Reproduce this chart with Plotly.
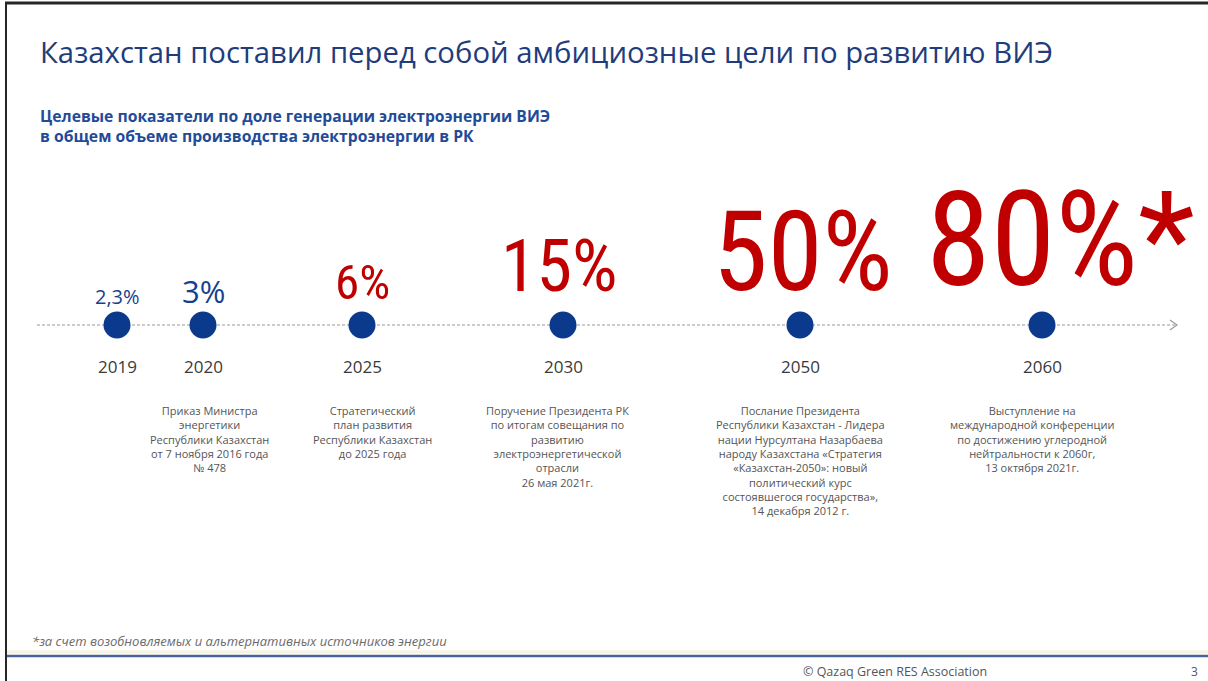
import plotly.graph_objects as go

# Milestones of the renewable-energy share targets
years = ["2019", "2020", "2025", "2030", "2050", "2060"]
shares = [2.3, 3, 6, 15, 50, 80]
footnote_marks = ["", "", "", "", "", "*"]
sources = [
    "",
    "Приказ Министра<br>энергетики<br>Республики Казахстан<br>от 7 ноября 2016 года<br>№ 478",
    "Стратегический<br>план развития<br>Республики Казахстан<br>до 2025 года",
    "Поручение Президента РК<br>по итогам совещания по<br>развитию<br>электроэнергетической<br>отрасли<br>26 мая 2021г.",
    "Послание Президента<br>Республики Казахстан - Лидера<br>нации Нурсултана Назарбаева<br>народу Казахстана «Стратегия<br>«Казахстан-2050»: новый<br>политический курс<br>состоявшегося государства»,<br>14 декабря 2012 г.",
    "Выступление на<br>международной конференции<br>по достижению углеродной<br>нейтральности к 2060г,<br>13 октября 2021г.",
]

title = "Казахстан поставил перед собой амбициозные цели по развитию ВИЭ"
subtitle = ("Целевые показатели по доле генерации электроэнергии ВИЭ<br>"
            "в общем объеме производства электроэнергии в РК")
footnote = "*за счет возобновляемых и альтернативных источников энергии"
credit = "© Qazaq Green RES Association"
page_no = "3"

# Layout: horizontal centre of each milestone column on the timeline
slot_x = [117, 203, 362, 563, 800, 1042]
line_y = 325
# label styling per milestone
label_sizes = [20, 31, 49, 72, 111, 131]
label_colors = ["#173f8f", "#173f8f", "#c00000", "#c00000", "#c00000", "#c00000"]
label_shift = [13, 11, 12, 14, 6, 6]
label_x_offset = [0, 0, 0, -4, 3, 18]
source_x_offset = [0, 6, 10, -6, 0, -10]

NAVY = "#0b3a8c"
SANS = "Open Sans, Noto Sans, sans-serif"
NARROW = ("Noto Sans Condensed SemiBold, Noto Sans SemiCondensed SemiBold, "
          "Noto Sans Condensed, Roboto Condensed, Roboto, sans-serif")

fig = go.Figure()

# dashed timeline
fig.add_trace(go.Scatter(
    x=[37, 1176], y=[line_y, line_y], mode="lines",
    line=dict(color="#9a9a9a", width=1.2, dash="3px,2px"),
    hoverinfo="skip", showlegend=False,
))

# milestone dots
fig.add_trace(go.Scatter(
    x=slot_x, y=[line_y] * len(years), mode="markers",
    marker=dict(size=27, color=NAVY, line=dict(width=0)),
    text=years, hovertemplate="%{text}<extra></extra>", showlegend=False,
))

annotations = []
for i, yr in enumerate(years):
    label = f"{shares[i]:g}".replace(".", ",") + "%" + footnote_marks[i]
    annotations.append(dict(
        x=slot_x[i] + label_x_offset[i], y=line_y, xref="x", yref="y",
        text=label, showarrow=False,
        xanchor="center", yanchor="bottom", yshift=label_shift[i],
        font=dict(family=NARROW if shares[i] >= 6 else SANS,
                  size=label_sizes[i], color=label_colors[i]),
    ))
    annotations.append(dict(
        x=slot_x[i], y=366, xref="x", yref="y", text=yr, showarrow=False,
        xanchor="center", yanchor="middle",
        font=dict(family=SANS, size=17, color="#3a3a3a"),
    ))
    if sources[i]:
        annotations.append(dict(
            x=slot_x[i] + source_x_offset[i], y=401, xref="x", yref="y",
            text=sources[i], showarrow=False, align="center",
            xanchor="center", yanchor="top",
            font=dict(family=SANS, size=11, color="#555555"),
        ))

annotations += [
    dict(x=38, y=52, xref="x", yref="y", text=title, showarrow=False,
         xanchor="left", yanchor="middle",
         font=dict(family=SANS, size=29.3, color="#1f3c7c")),
    dict(x=38, y=126, xref="x", yref="y", text="<b>" + subtitle + "</b>",
         showarrow=False, xanchor="left", yanchor="middle", align="left",
         font=dict(family=SANS, size=15.7, color="#1f4b97")),
    dict(x=30, y=641, xref="x", yref="y", text="<i>" + footnote + "</i>",
         showarrow=False, xanchor="left", yanchor="middle",
         font=dict(family=SANS, size=13, color="#6b6b6b")),
    dict(x=895, y=671, xref="x", yref="y", text=credit, showarrow=False,
         xanchor="center", yanchor="middle",
         font=dict(family=SANS, size=12.5, color="#555555")),
    dict(x=1194, y=671, xref="x", yref="y", text=page_no, showarrow=False,
         xanchor="center", yanchor="middle",
         font=dict(family=SANS, size=12, color="#555555")),
]

shapes = [
    # arrow head of the timeline
    dict(type="path", xref="x", yref="y",
         path=f"M 1170 {line_y - 5} L 1177 {line_y} L 1170 {line_y + 5}",
         line=dict(color="#9a9a9a", width=1.2)),
    # footer rule
    dict(type="line", xref="x", yref="y", x0=7, x1=1208, y0=652, y1=652,
         line=dict(color="#f6f3de", width=3)),
    dict(type="line", xref="x", yref="y", x0=7, x1=1208, y0=656, y1=656,
         line=dict(color="#46649b", width=2.5)),
    # slide frame
    dict(type="line", xref="x", yref="y", x0=5, x1=1208, y0=3, y1=3,
         line=dict(color="#262626", width=3)),
    dict(type="line", xref="x", yref="y", x0=6, x1=6, y0=2, y1=681,
         line=dict(color="#262626", width=2)),
]

fig.update_layout(
    width=1208, height=681,
    margin=dict(l=0, r=0, t=0, b=0),
    paper_bgcolor="white", plot_bgcolor="white",
    xaxis=dict(range=[0, 1208], visible=False, fixedrange=True),
    yaxis=dict(range=[681, 0], visible=False, fixedrange=True),
    annotations=annotations, shapes=shapes,
    showlegend=False,
)

fig.write_html("out.html")
